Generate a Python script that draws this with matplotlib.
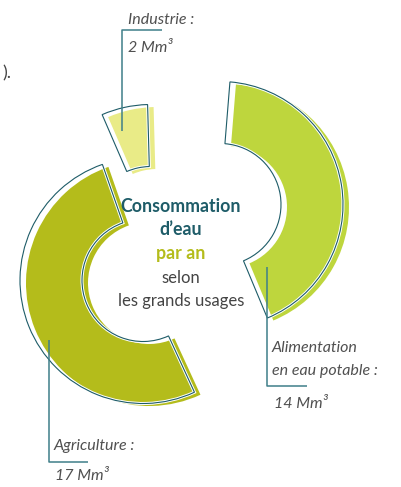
import matplotlib
matplotlib.use("Agg")
import matplotlib.pyplot as plt
from matplotlib.patches import Wedge
import matplotlib.patheffects as pe

# ---- data ----
categories = ["Alimentation\nen eau potable :", "Agriculture :", "Industrie :"]
values = [14, 17, 2]
unit = "Mm³"
title_lines = ["Consommation", "d’eau", "par an", "selon", "les grands usages"]

# ---- styles / layout ----
fill_colors = ["#BED63D", "#B4BC1B", "#E9EB87"]
teal = "#1E5C68"
leader = "#3F7F89"
label_gray = "#505050"
W, H = 401, 487

fig = plt.figure(figsize=(W / 100, H / 100), dpi=100)
ax = fig.add_axes([0, 0, 1, 1])
ax.set_xlim(0, W)
ax.set_ylim(H, 0)
ax.set_aspect("equal")
ax.axis("off")

total = sum(values)
spans = [v / total * 360.0 for v in values]
centers = [(226, 207), (149, 283), (157, 230)]   # px, image coords
mids = [9.0, 202.0, 102.5]                        # visual mid-angle (deg, ccw)
R, width = 123, 62
off = (-6, -2.5)

for (cx, cy), m, d, c in zip(centers, mids, spans, fill_colors):
    a, b = m - d / 2, m + d / 2
    # y axis is inverted -> negate angles
    ax.add_patch(Wedge((cx, cy), R, -b, -a, width=width, facecolor=c,
                       edgecolor="none", zorder=2))
    ax.add_patch(Wedge((cx + off[0], cy + off[1]), R, -b, -a, width=width,
                       facecolor="none", edgecolor=teal, lw=0.8, zorder=3,
                       path_effects=[pe.Stroke(linewidth=2.2, foreground="white"),
                                     pe.Normal()]))

# leader lines
leaders = [
    [(267, 267), (267, 386), (307, 386)],
    [(49, 340), (49, 462), (88, 462)],
    [(122, 131), (122, 30), (162, 30)],
]
for pts in leaders:
    xs, ys = zip(*pts)
    ax.plot(xs, ys, color=leader, lw=1.1, zorder=4, solid_capstyle="butt")

fam = ["Lato", "DejaVu Sans"]
lab_font = dict(family=fam, style="italic", weight="normal",
                color=label_gray, fontsize=11.5, zorder=5)
# label positions (image px): (x, baseline of first line, line step, value baseline, value x)
label_pos = [(272, 352, 23, 408, 274), (54, 450, 0, 480, 55), (128, 24, 0, 52, 128)]
for cat, v, (x, y0, step, yv, xv) in zip(categories, values, label_pos):
    for i, line in enumerate(cat.split("\n")):
        ax.text(x, y0 + i * step, line, ha="left", va="baseline", **lab_font)
    ax.text(xv, yv, f"{v} {unit}", ha="left", va="baseline", **lab_font)

# centre title
cx_t = 181
ax.text(cx_t, 212, title_lines[0], ha="center", va="baseline", family=fam,
        weight="bold", color=teal, fontsize=12.8)
ax.text(cx_t, 235, title_lines[1], ha="center", va="baseline", family=fam,
        weight="bold", color=teal, fontsize=12.8)
ax.text(cx_t, 259, title_lines[2], ha="center", va="baseline", family=fam,
        weight="bold", color=fill_colors[1], fontsize=12.8)
ax.text(cx_t, 283, title_lines[3], ha="center", va="baseline", family=fam,
        weight="normal", color="#444444", fontsize=12)
ax.text(cx_t, 306, title_lines[4], ha="center", va="baseline", family=fam,
        weight="normal", color="#444444", fontsize=12)

# fragment of preceding text at top-left
ax.text(2, 78, ").", ha="left", va="baseline", family=fam, weight="normal",
        color="#444444", fontsize=13)

fig.savefig("out.png", dpi=100)
